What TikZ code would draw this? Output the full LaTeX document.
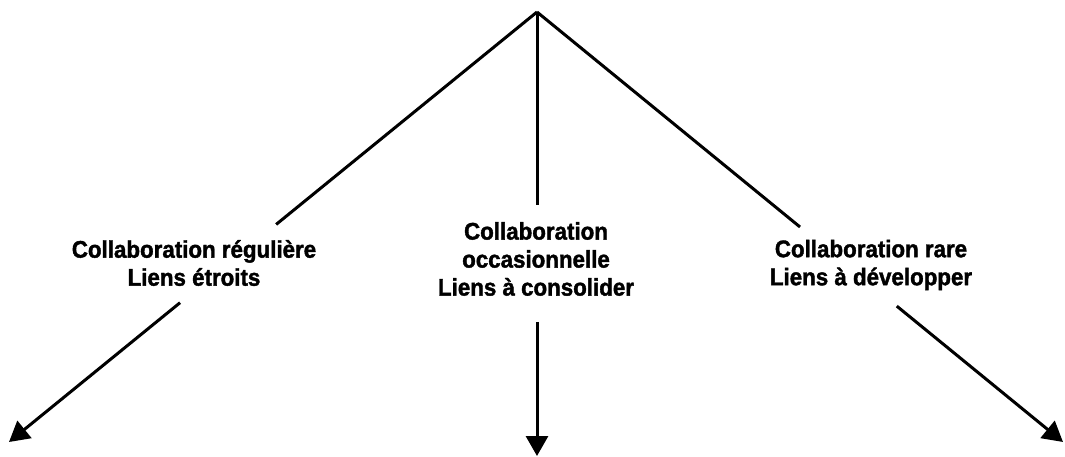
\documentclass[tikz,border=0pt]{standalone}
\usepackage{fontspec}
\setmainfont{Liberation Sans}[FakeStretch=0.93, BoldFeatures={FakeBold=1.6}]
\usetikzlibrary{arrows.meta, positioning, calc}

\begin{document}
\begin{tikzpicture}
  [
  x=1pt, y=-1pt,
  % label
  lbl/.style = {align=center,
    inner sep=0pt,
    font=\bfseries\fontsize{24}{28}\selectfont},
  % line
  line/.style = {draw, line width=3pt},
  % arrow
  fleche/.style = {line, -{Triangle[length=20pt, width=22pt]}},
  ]
  \useasboundingbox (0,0) rectangle (1065,457);

  % nodes
  \coordinate (top) at (537,12);
  \coordinate (gauche) at (9,442);
  \coordinate (milieu) at (537,456);
  \coordinate (droite) at (1063,442);

  \node [lbl] (reg) at (194,263) {Collaboration régulière\\Liens étroits};
  \node [lbl] (occ) at (536,259) {Collaboration\\occasionnelle\\Liens à consolider};
  \node [lbl] (rare) at (871,265) {Collaboration rare\\Liens à développer};

  % breaks in the lines around the labels
  \coordinate (reg1) at ($(top)!0.494!(gauche)$);
  \coordinate (reg2) at ($(top)!0.676!(gauche)$);
  \coordinate (occ1) at ($(top)!0.435!(milieu)$);
  \coordinate (occ2) at ($(top)!0.698!(milieu)$);
  \coordinate (rare1) at ($(top)!0.5!(droite)$);
  \coordinate (rare2) at ($(top)!0.684!(droite)$);

  % path
  \path [line] (top) -- (reg1);
  \path [fleche] (reg2) -- (gauche);
  \path [line] (top) -- (occ1);
  \path [fleche] (occ2) -- (milieu);
  \path [line] (top) -- (rare1);
  \path [fleche] (rare2) -- (droite);

\end{tikzpicture}
\end{document}
